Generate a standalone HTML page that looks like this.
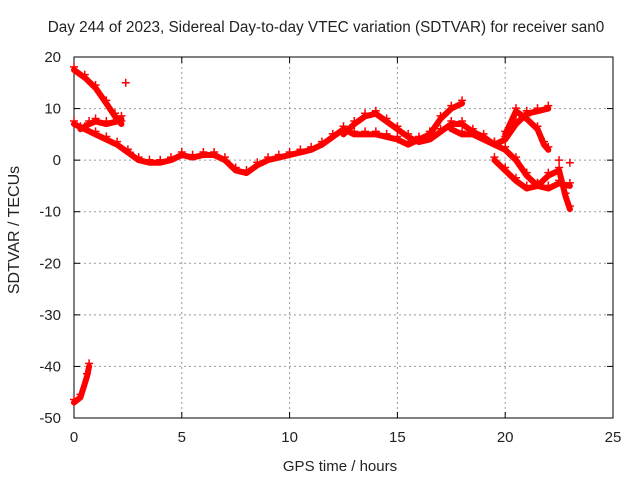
<!DOCTYPE html>
<html><head><meta charset="utf-8"><style>
body{margin:0;background:#fff}
svg text{font-family:"Liberation Sans",sans-serif;font-size:15px;fill:#222}
</style></head><body>
<svg id="chart" width="640" height="480" viewBox="0 0 640 480" xmlns="http://www.w3.org/2000/svg">
<text x="326" y="32" text-anchor="middle" style="font-size:15.3px">Day 244 of 2023, Sidereal Day-to-day VTEC variation (SDTVAR) for receiver san0</text>
<g id="grid"></g>
<g id="axes"></g>
<g id="series"></g>
<text x="340" y="471" text-anchor="middle">GPS time / hours</text>
<text transform="translate(19,230) rotate(-90)" text-anchor="middle" style="font-size:16px">SDTVAR / TECUs</text>
</svg>
<script>
const xTicks=[0,5,10,15,20,25];
const yTicks=[20,10,0,-10,-20,-30,-40,-50];
const trackA=[[0,17.5],[0.5,16],[1,14],[1.5,11],[1.9,8.5],[2.2,7]];
const trackB=[[0,7],[0.5,6],[1,5],[1.5,4],[2,3],[2.5,1.5],[3,0],[3.5,-0.5],[4,-0.5],[4.5,0],[5,1],[5.5,0.5],[6,1],[6.5,1],[7,0],[7.5,-2],[8,-2.5],[8.5,-1],[9,0],[9.5,0.5],[10,1],[10.5,1.5],[11,2],[11.5,3],[12,4.5],[12.5,6],[13,5],[13.5,5],[14,5],[14.5,4.5],[15,4],[15.5,3],[16,4],[16.5,5],[17,8],[17.5,10],[18,11]];
const trackC=[[0.3,6],[0.7,7],[1,7.5],[1.5,7],[2,7.5],[2.2,8]];
const trackD=[[12.5,5],[13,7],[13.5,8.5],[14,9],[14.5,7.5],[15,6],[15.5,4.5],[16,3.5],[16.5,4],[17,5.5],[17.5,7],[18,7],[18.5,5.5],[19,4.5],[19.5,3],[20,2],[20.5,0],[21,-3],[21.5,-5],[22,-5.5],[22.5,-4.5],[23,-5]];
const trackE=[[17.5,6],[18,5],[18.5,5],[19,4],[19.5,3],[20,4],[20.5,7],[21,9],[21.5,9.5],[22,10]];
const trackF=[[19.5,0],[20,-2],[20.5,-4],[21,-5.5],[21.5,-5],[22,-3],[22.5,-2],[22.8,-7],[23,-9.5]];
const trackG=[[20,5],[20.5,9.5],[21,8],[21.5,6],[21.8,3],[22,2]];
const trackH=[[0,-47],[0.3,-46],[0.6,-42],[0.7,-40]];
const isolated=[[2.4,15],[2.6,1.5],[22.5,0],[23,-0.5]];
const tracks=[trackA,trackB,trackC,trackD,trackE,trackF,trackG,trackH];

const L=74,R=613,T=57,B=418;
const X=v=>L+(v-0)/(25-0)*(R-L);
const Y=v=>B-(v+50)/(70)*(B-T);
const NS="http://www.w3.org/2000/svg";
function mk(t,a,p){const e=document.createElementNS(NS,t);for(const k in a)e.setAttribute(k,a[k]);p.appendChild(e);return e;}
const grid=document.getElementById('grid'),axes=document.getElementById('axes'),ser=document.getElementById('series');
xTicks.forEach(v=>{
  if(v>0&&v<25){const g=mk('line',{x1:X(v),x2:X(v),y1:T,y2:B,stroke:'#999','stroke-dasharray':'2,3'},grid);
  
  }
  const t=mk('text',{x:X(v),y:B+24,'text-anchor':'middle'},axes);t.textContent=v;
  
  
  mk('line',{x1:X(v),x2:X(v),y1:B,y2:B-6,stroke:'#000'},axes);
  mk('line',{x1:X(v),x2:X(v),y1:T,y2:T+6,stroke:'#000'},axes);
});
yTicks.forEach(v=>{
  if(v<20&&v>-50){const g=mk('line',{x1:L,x2:R,y1:Y(v),y2:Y(v),stroke:'#999','stroke-dasharray':'2,3'},grid);
  
  }
  const t=mk('text',{x:L-13,y:Y(v)+5,'text-anchor':'end'},axes);t.textContent=v;
  
  
  mk('line',{x1:L,x2:L+6,y1:Y(v),y2:Y(v),stroke:'#000'},axes);
  mk('line',{x1:R,x2:R-6,y1:Y(v),y2:Y(v),stroke:'#000'},axes);
});
const frame=mk('rect',{x:L,y:T,width:R-L,height:B-T,fill:'none',stroke:'#000'},axes);


function plus(x,y){mk('path',{d:`M${x-4},${y}h8M${x},${y-4}v8`,stroke:'#f00','stroke-width':1.5},ser);}
tracks.forEach(tr=>{
  const p=mk('polyline',{points:tr.map(d=>X(d[0])+','+Y(d[1])).join(' '),fill:'none',stroke:'#f00','stroke-width':6,'stroke-linejoin':'round','stroke-linecap':'round'},ser);
  
  
  tr.forEach(d=>plus(X(d[0]),Y(d[1])-3));
});
isolated.forEach(d=>plus(X(d[0]),Y(d[1])));
</script>
</body></html>
